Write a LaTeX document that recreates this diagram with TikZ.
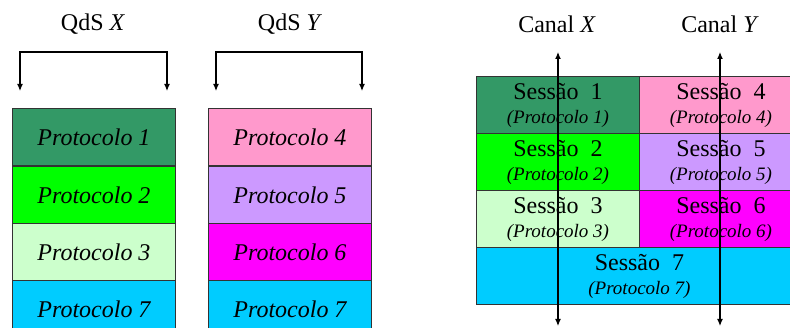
\documentclass[tikz,border=0pt]{standalone}
\usepackage{fontspec}
\setmainfont{Liberation Serif}
\usetikzlibrary{arrows.meta}
\definecolor{cdg}{HTML}{339966}
\definecolor{cg}{HTML}{00FF00}
\definecolor{clg}{HTML}{CCFFCC}
\definecolor{ccy}{HTML}{00CCFF}
\definecolor{cpk}{HTML}{FF99CC}
\definecolor{clv}{HTML}{CC99FF}
\definecolor{cmg}{HTML}{FF00FF}
\definecolor{bord}{HTML}{333333}
\tikzset{
  cell/.style={draw=bord, line width=0.9pt, anchor=north west, inner sep=0pt,
    minimum width=163pt, minimum height=57pt,
    font=\fontsize{24}{27}\selectfont\itshape},
  scell/.style={draw=bord, line width=0.9pt, anchor=north west, inner sep=0pt,
    minimum width=163pt, minimum height=57pt, align=center,
    font=\fontsize{24}{26}\selectfont},
  lbl/.style={font=\fontsize{24}{27}\selectfont, inner sep=0pt},
  darr/.style={line width=1.2pt, {Latex[length=7pt,width=6pt]}-{Latex[length=7pt,width=6pt]}},
}
\newcommand{\sub}[1]{\\[-2pt]{\fontsize{19}{21}\selectfont\itshape #1}}
\begin{document}
\begin{tikzpicture}[x=1pt,y=-1pt]
\useasboundingbox (0,0) rectangle (790,328);
% left stacks
\node[cell, fill=cdg] (p1) at (12,108) {Protocolo 1};
\node[cell, fill=cg] (p2) at (12,166) {Protocolo 2};
\node[cell, fill=clg] (p3) at (12,223) {Protocolo 3};
\node[cell, fill=ccy] (p7a) at (12,280) {Protocolo 7};
\node[cell, fill=cpk] (p4) at (208,108) {Protocolo 4};
\node[cell, fill=clv] (p5) at (208,166) {Protocolo 5};
\node[cell, fill=cmg] (p6) at (208,223) {Protocolo 6};
\node[cell, fill=ccy] (p7b) at (208,280) {Protocolo 7};
\node[lbl] (qx) at (93,24) {QdS \textit{X}};
\node[lbl] (qy) at (290,24) {QdS \textit{Y}};
\coordinate (ax1) at (20,91); \coordinate (ax2) at (167,91);
\coordinate (ay1) at (216,91); \coordinate (ay2) at (362,91);
\draw[darr] (ax1) |- (93,52) -| (ax2);
\draw[darr] (ay1) |- (289,52) -| (ay2);
% right panel
\node[scell, fill=cdg] (s1) at (476,76) {Sessão\ \ 1\sub{(Protocolo 1)}};
\node[scell, fill=cpk] (s4) at (639,76) {Sessão\ \ 4\sub{(Protocolo 4)}};
\node[scell, fill=cg] (s2) at (476,133) {Sessão\ \ 2\sub{(Protocolo 2)}};
\node[scell, fill=clv] (s5) at (639,133) {Sessão\ \ 5\sub{(Protocolo 5)}};
\node[scell, fill=clg] (s3) at (476,190) {Sessão\ \ 3\sub{(Protocolo 3)}};
\node[scell, fill=cmg] (s6) at (639,190) {Sessão\ \ 6\sub{(Protocolo 6)}};
\node[scell, fill=ccy, minimum width=326pt] (s7) at (476,247) {Sessão\ \ 7\sub{(Protocolo 7)}};
\node[lbl] (cx) at (557,24) {Canal \textit{X}};
\node[lbl] (cy) at (720,24) {Canal \textit{Y}};
\coordinate (cxt) at (558,52); \coordinate (cxb) at (558,326);
\coordinate (cyt) at (720,52); \coordinate (cyb) at (720,326);
\draw[darr] (cxt) -- (cxb);
\draw[darr] (cyt) -- (cyb);
\end{tikzpicture}
\end{document}
